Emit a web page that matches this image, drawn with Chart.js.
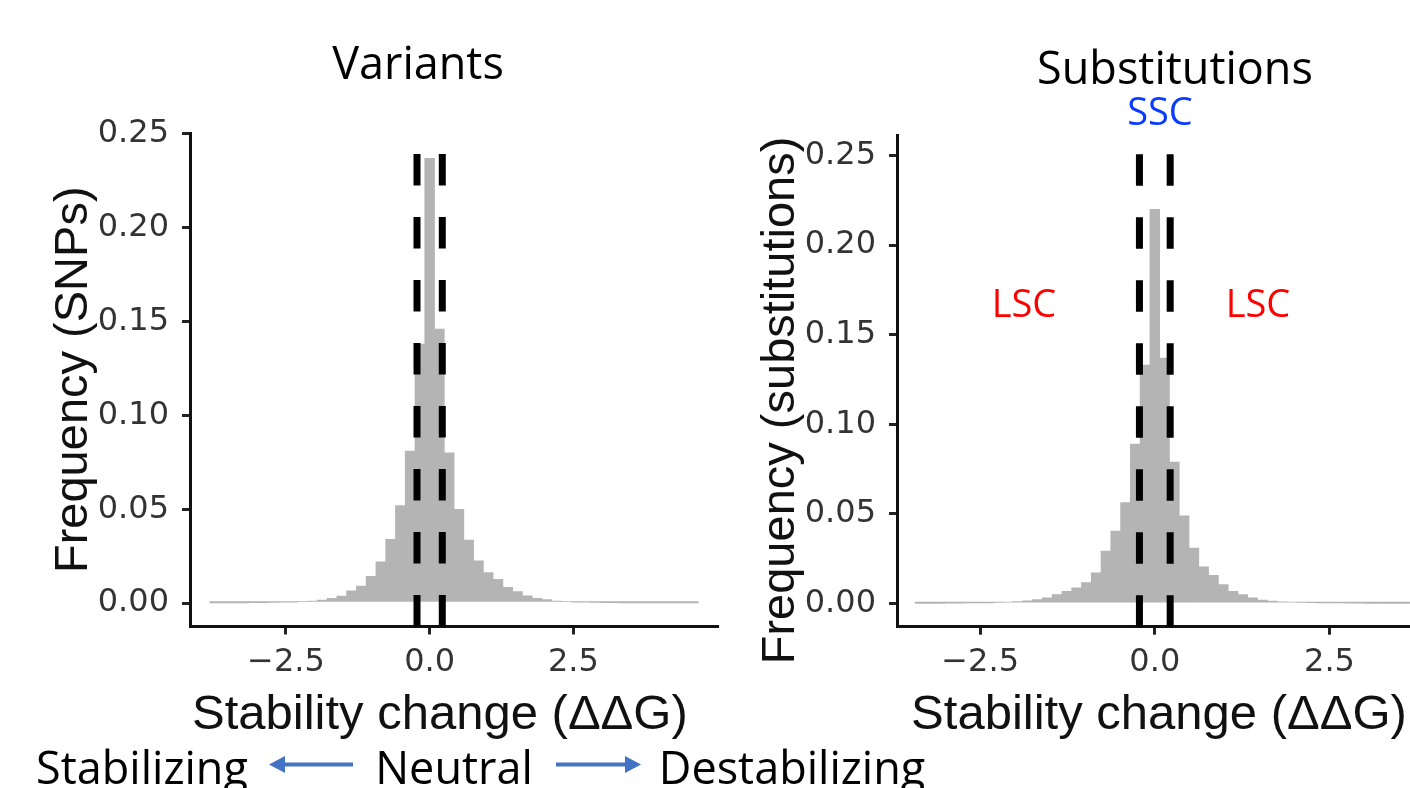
<!DOCTYPE html>
<html>
<head>
<meta charset="utf-8">
<script src="https://cdn.jsdelivr.net/npm/chart.js@4.4.1/dist/chart.umd.min.js"></script>
<style>
  html, body { margin: 0; padding: 0; background: #fff; }
  body { width: 1410px; height: 788px; overflow: hidden; position: relative; }
  canvas { position: absolute; top: 0; }
  #leftChart { left: 0; }
  #rightChart { left: 740px; }
  .note {
    position: absolute; white-space: nowrap; line-height: 1;
    font-family: 'Open Sans', sans-serif; transform: translate(-50%, -50%);
    z-index: 2;
  }
  svg { position: absolute; left: 0; top: 0; z-index: 2; }
</style>
</head>
<body>
<canvas id="leftChart" width="740" height="740"></canvas>
<canvas id="rightChart" width="690" height="740"></canvas>

<div class="note" style="left:418px; top:61px; font-size:45px;">Variants</div>
<div class="note" style="left:1175px; top:66px; font-size:45px;">Substitutions</div>
<div class="note" style="left:1160px; top:110px; font-size:38px; color:#0a3cff;">SSC</div>
<div class="note" style="left:1024px; top:302px; font-size:38px; color:#ff0000;">LSC</div>
<div class="note" style="left:1258px; top:302px; font-size:38px; color:#ff0000;">LSC</div>
<div class="note" style="left:142px; top:766px; font-size:45px;">Stabilizing</div>
<div class="note" style="left:454px; top:766px; font-size:45px;">Neutral</div>
<div class="note" style="left:792px; top:766px; font-size:45px;">Destabilizing</div>
<svg width="1410" height="788">
  <line x1="353" y1="764.5" x2="281" y2="764.5" stroke="#4472c4" stroke-width="4"/>
  <polygon points="269,764.5 285,756 285,773" fill="#4472c4"/>
  <line x1="556" y1="764.5" x2="628" y2="764.5" stroke="#4472c4" stroke-width="4"/>
  <polygon points="641,764.5 625,756 625,773" fill="#4472c4"/>
</svg>

<script>
// histogram bins (bin centre in ddG units, frequency)
const variantBins = [-3.74, -3.57, -3.40, -3.23, -3.06, -2.89, -2.72, -2.55, -2.38, -2.21,
  -2.04, -1.87, -1.70, -1.53, -1.36, -1.19, -1.02, -0.85, -0.68, -0.51, -0.34, -0.17,
  0, 0.17, 0.34, 0.51, 0.68, 0.85, 1.02, 1.19, 1.36, 1.53, 1.70, 1.87, 2.04, 2.21, 2.38,
  2.55, 2.72, 2.89, 3.06, 3.23, 3.40, 3.57, 3.74, 3.91, 4.08, 4.25, 4.42, 4.59];
const variantFreq = [0.00005, 0.0001, 0.0001, 0.0001, 0.0002, 0.0002, 0.0003, 0.0004, 0.0005, 0.0007,
  0.0011, 0.0016, 0.0025, 0.0037, 0.0065, 0.009, 0.0143, 0.022, 0.034, 0.052, 0.081, 0.138,
  0.237, 0.146, 0.080, 0.050, 0.0335, 0.0225, 0.0162, 0.0127, 0.0084, 0.0061, 0.0039, 0.0025, 0.0018, 0.0011, 0.0007,
  0.0005, 0.0004, 0.0003, 0.0002, 0.0002, 0.0001, 0.0001, 0.0001, 0.0001, 0.00005, 0.00005, 0.00005, 0.00005];

const substBins = [-3.36, -3.22, -3.08, -2.94, -2.80, -2.66, -2.52, -2.38, -2.24, -2.10,
  -1.96, -1.82, -1.68, -1.54, -1.40, -1.26, -1.12, -0.98, -0.84, -0.70, -0.56, -0.42, -0.28, -0.14,
  0, 0.14, 0.28, 0.42, 0.56, 0.70, 0.84, 0.98, 1.12, 1.26, 1.40, 1.54, 1.68, 1.82, 1.96,
  2.10, 2.24, 2.38, 2.52, 2.66, 2.80, 2.94, 3.08, 3.22, 3.36, 3.50, 3.64, 3.78];
const substFreq = [0.0001, 0.0001, 0.0001, 0.0002, 0.0002, 0.0003, 0.0003, 0.0004, 0.0006, 0.0008,
  0.0011, 0.0015, 0.0022, 0.0032, 0.005, 0.0069, 0.0088, 0.0117, 0.0172, 0.0293, 0.0405, 0.0563, 0.089, 0.133,
  0.220, 0.137, 0.079, 0.049, 0.031, 0.0205, 0.0157, 0.0106, 0.0069, 0.005, 0.0032, 0.0019, 0.0014, 0.0010, 0.0008,
  0.0006, 0.0005, 0.0004, 0.0003, 0.0003, 0.0002, 0.0002, 0.0001, 0.0001, 0.0001, 0.0001, 0.0001, 0.0001];

// neutral band boundaries (dashed lines)
const neutralBounds = [-0.22, 0.22];
const xTickVals = [-2.5, 0, 2.5];
const yTickVals = [0, 0.05, 0.10, 0.15, 0.20, 0.25];

const dashedLines = {
  id: 'dashedLines',
  afterDatasetsDraw(chart) {
    const ctx = chart.ctx;
    const area = chart.chartArea;
    ctx.save();
    ctx.strokeStyle = '#000';
    ctx.lineWidth = 7;
    ctx.setLineDash([31.5, 31.5]);
    neutralBounds.forEach(v => {
      const x = chart.scales.x.getPixelForValue(v);
      ctx.beginPath();
      ctx.moveTo(x, area.bottom);
      ctx.lineTo(x, area.top);
      ctx.stroke();
    });
    ctx.restore();
  }
};

function makeChart(id, bins, freq, opt) {
  return new Chart(document.getElementById(id), {
    type: 'bar',
    data: {
      datasets: [{
        data: bins.map((b, i) => ({ x: b, y: freq[i] })),
        backgroundColor: '#b4b4b4',
        borderWidth: 0,
        barPercentage: 1,
        categoryPercentage: 1
      }]
    },
    options: {
      responsive: false,
      animation: false,
      devicePixelRatio: 1,
      layout: { padding: { top: opt.top, right: opt.right, left: 0, bottom: 0 } },
      plugins: { legend: { display: false }, tooltip: { enabled: false } },
      scales: {
        x: {
          type: 'linear',
          offset: false,
          min: opt.xMin,
          max: opt.xMax,
          afterBuildTicks: s => { s.ticks = xTickVals.map(v => ({ value: v })); },
          afterFit: s => { s.height = 740 - opt.bottom; },
          ticks: {
            autoSkip: false, maxRotation: 0, padding: 9,
            color: '#333',
            font: { family: 'DejaVu Sans', size: 32 },
            callback: v => v.toFixed(1).replace('-', '\u2212')
          },
          grid: { offset: false, drawOnChartArea: false, drawTicks: true, tickLength: 8, lineWidth: 3, color: '#222' },
          border: { display: true, color: '#111', width: 3 },
          title: {
            display: true, text: opt.xTitle, color: '#111',
            font: { family: 'Liberation Sans', size: 49, lineHeight: 1 },
            padding: { top: 0, bottom: 0 }
          }
        },
        y: {
          min: opt.yMin,
          max: opt.yMax,
          afterBuildTicks: s => { s.ticks = yTickVals.map(v => ({ value: v })); },
          afterFit: s => { s.width = opt.axisX; },
          ticks: {
            padding: 13,
            color: '#333',
            font: { family: 'DejaVu Sans', size: 32 },
            callback: v => v.toFixed(2)
          },
          grid: { drawOnChartArea: false, drawTicks: true, tickLength: 8, lineWidth: 3, color: '#222' },
          border: { display: true, color: '#111', width: 3 },
          title: {
            display: true, text: opt.yTitle, color: '#111',
            font: { family: 'Liberation Sans', size: 47, lineHeight: 1 },
            padding: { top: opt.titlePad, bottom: 0 }
          }
        }
      }
    },
    plugins: [dashedLines]
  });
}

makeChart('leftChart', variantBins, variantFreq, {
  top: 133, right: 23, bottom: 626.5, axisX: 190,
  xMin: -4.17, xMax: 5.0, yMin: -0.0125, yMax: 0.2505,
  xTitle: 'Stability change (ΔΔG)  ',
  yTitle: 'Frequency (SNPs)', titlePad: 51
});

makeChart('rightChart', substBins, substFreq, {
  top: 135, right: 9, bottom: 626.7, axisX: 157,
  xMin: -3.69, xMax: 3.81, yMin: -0.0129, yMax: 0.2614,
  xTitle: 'Stability change (ΔΔG)',
  yTitle: 'Frequency (substitutions)   ', titlePad: 18
});
</script>
</body>
</html>
